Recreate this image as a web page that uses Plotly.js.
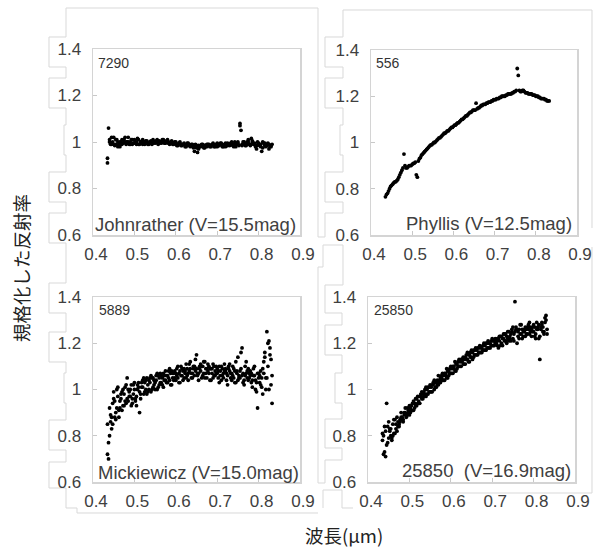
<!DOCTYPE html>
<html>
<head>
<meta charset="utf-8">
<script src="https://cdn.plot.ly/plotly-3.0.1.min.js"></script>
<style>html,body{margin:0;padding:0;background:#fff;}#chart{width:593px;height:547px;}</style>
</head>
<body>
<div id="chart"></div>
<script>
// ---- data ----
const wlA = [0.435,0.440,0.445,0.450,0.455,0.460,0.465,0.470,0.475,0.480,
0.485,0.490,0.495,0.500,0.505,0.510,0.515,0.520,0.525,0.530,
0.535,0.540,0.545,0.550,0.555,0.560,0.565,0.570,0.575,0.580,
0.585,0.590,0.595,0.600,0.605,0.610,0.615,0.620,0.625,0.630,
0.635,0.640,0.645,0.650,0.655,0.660,0.665,0.670,0.675,0.680,
0.685,0.690,0.695,0.700,0.705,0.710,0.715,0.720,0.725,0.730,
0.735,0.740,0.745,0.750,0.755,0.760,0.765,0.770,0.775,0.780,
0.785,0.790,0.795,0.800,0.805,0.810,0.815,0.820,0.825,0.830];
const wlB = [0.4375,0.4425,0.4475,0.4525,0.4575,0.4625,0.4675,0.4725,0.4775,0.4825,
0.4875,0.4925,0.4975,0.5025,0.5075,0.5125,0.5175,0.5225,0.5275,0.5325,
0.5375,0.5425,0.5475,0.5525,0.5575,0.5625,0.5675,0.5725,0.5775,0.5825,
0.5875,0.5925,0.5975,0.6025,0.6075,0.6125,0.6175,0.6225,0.6275,0.6325,
0.6375,0.6425,0.6475,0.6525,0.6575,0.6625,0.6675,0.6725,0.6775,0.6825,
0.6875,0.6925,0.6975,0.7025,0.7075,0.7125,0.7175,0.7225,0.7275,0.7325,
0.7375,0.7425,0.7475,0.7525,0.7575,0.7625,0.7675,0.7725,0.7775,0.7825,
0.7875,0.7925,0.7975,0.8025,0.8075,0.8125,0.8175,0.8225,0.8275,0.8325];

// 7290 Johnrather
const johnA1 = [0.93,1.01,0.99,1.02,0.99,1.00,0.98,1.01,1.00,0.99,
1.02,1.00,0.99,1.01,1.00,0.99,1.00,1.01,0.99,1.00,
0.995,1.00,1.01,0.995,1.00,1.005,0.995,1.01,1.00,1.005,
0.995,1.00,0.99,0.995,0.99,1.00,0.985,0.99,0.985,0.99,
0.98,0.985,0.96,0.975,0.985,0.98,0.99,0.985,0.98,0.99,
0.985,0.99,0.98,0.995,0.985,0.99,0.98,0.995,0.985,0.99,
1.00,0.98,0.995,1.00,1.07,0.99,1.00,0.985,1.01,0.99,
1.00,0.995,0.97,0.99,0.98,1.00,0.985,0.99,0.97,0.985];
const johnB1 = [1.06,0.99,1.00,0.985,1.01,0.99,1.00,0.995,1.02,1.00,
0.99,1.01,0.995,1.00,1.015,0.99,1.00,0.995,1.005,0.99,
1.00,0.99,1.00,1.005,0.99,1.00,1.01,0.995,1.005,0.995,
1.00,0.99,1.00,0.985,0.995,0.985,0.99,0.98,0.995,0.985,
0.99,0.975,0.99,0.955,0.98,0.99,0.975,0.985,0.99,0.98,
0.99,0.98,0.99,0.985,0.995,0.98,0.99,0.985,0.99,0.995,
0.985,1.00,0.99,0.985,1.05,1.00,0.985,1.00,0.99,1.015,
0.99,0.98,1.00,0.985,0.96,0.995,0.98,0.995,0.98,0.99];
const johnA2 = [0.91,1.00,1.02,0.99,1.01,0.98,1.00,0.99,1.01,1.00,
1.00,0.99,1.01,0.995,0.99,1.01,1.00,0.99,1.00,1.005,
0.99,1.005,0.995,1.00,1.01,0.995,1.00,1.00,0.995,1.01,
0.99,1.005,0.995,1.00,0.985,0.995,0.99,0.995,0.98,0.995,
0.985,0.99,0.98,0.985,0.97,0.985,0.985,0.975,0.99,0.985,
0.98,0.995,0.985,0.98,0.99,0.995,0.985,0.98,0.995,0.985,
0.99,0.99,0.98,0.995,1.08,0.985,0.995,0.99,1.00,0.985,
1.005,0.99,0.985,0.995,0.99,0.975,0.995,0.985,0.99,0.98];

// 556 Phyllis
const phylA1 = [0.765,0.78,0.80,0.815,0.825,0.83,0.84,0.86,0.88,0.95,
0.89,0.895,0.90,0.905,0.91,0.86,0.92,0.935,0.95,0.96,
0.97,0.98,0.99,0.995,1.00,1.01,1.02,1.025,1.035,1.04,
1.05,1.055,1.065,1.07,1.075,1.085,1.09,1.10,1.105,1.115,
1.12,1.13,1.135,1.14,1.17,1.15,1.155,1.16,1.165,1.17,
1.175,1.175,1.18,1.185,1.19,1.19,1.195,1.20,1.20,1.205,
1.21,1.21,1.215,1.22,1.32,1.225,1.22,1.225,1.215,1.215,
1.21,1.21,1.205,1.20,1.20,1.195,1.19,1.19,1.185,1.18];
const phylB1 = [0.775,0.79,0.81,0.82,0.83,0.835,0.85,0.87,0.89,0.90,
0.89,0.90,0.90,0.91,0.915,0.85,0.93,0.945,0.955,0.965,
0.975,0.985,0.99,1.00,1.005,1.015,1.02,1.03,1.04,1.045,
1.05,1.06,1.065,1.075,1.08,1.085,1.095,1.10,1.11,1.115,
1.125,1.13,1.14,1.14,1.145,1.15,1.16,1.165,1.165,1.17,
1.175,1.18,1.185,1.185,1.19,1.195,1.20,1.20,1.205,1.21,
1.21,1.215,1.22,1.225,1.29,1.22,1.225,1.22,1.215,1.21,
1.21,1.205,1.205,1.20,1.195,1.19,1.19,1.185,1.18,1.18];

// 5889 Mickiewicz
const mickA1 = [0.72,0.80,0.88,0.96,0.90,0.97,0.92,0.99,0.93,1.02,
0.95,1.00,0.94,1.03,0.97,1.01,0.98,1.04,0.99,1.05,
1.00,1.06,1.01,1.00,1.07,1.02,1.06,1.01,1.08,1.03,
1.09,1.02,1.07,1.04,1.10,1.03,1.09,1.05,1.11,1.04,
1.12,1.05,1.10,1.15,1.04,1.11,1.06,1.12,1.05,1.10,
1.04,1.11,1.06,1.09,1.03,1.10,1.05,1.08,1.02,1.11,
1.04,1.09,1.03,1.14,1.05,1.18,1.02,1.12,1.04,1.08,
1.01,1.10,0.99,1.07,1.02,1.09,1.14,1.25,1.21,1.02];
const mickB1 = [0.77,0.86,0.94,0.88,1.00,0.91,0.98,0.93,1.01,0.96,
0.99,0.93,1.02,0.96,1.00,0.90,1.03,0.98,1.04,0.99,
1.05,1.00,1.04,1.06,1.01,1.07,1.02,1.06,1.03,1.08,
1.02,1.07,1.05,1.09,1.03,1.10,1.04,1.08,1.06,1.11,
1.05,1.09,1.13,1.06,1.10,1.05,1.12,1.07,1.11,1.04,
1.09,1.06,1.10,1.05,1.08,1.06,1.11,1.04,1.09,1.05,
1.10,1.03,1.08,1.06,1.16,1.03,1.10,1.05,1.07,1.03,
1.09,1.00,0.92,1.06,1.01,1.12,1.00,1.20,1.15,0.94];
const mickA2 = [0.85,0.92,0.83,0.99,0.87,1.01,0.95,0.91,0.98,0.94,
1.00,0.97,0.96,1.00,0.93,1.03,0.96,1.01,1.03,0.98,
1.04,0.99,1.05,1.03,1.00,1.05,1.03,1.07,1.04,1.06,
1.04,1.08,1.04,1.07,1.05,1.08,1.06,1.09,1.05,1.07,
1.09,1.07,1.06,1.09,1.07,1.08,1.10,1.05,1.09,1.07,
1.09,1.05,1.08,1.07,1.10,1.04,1.07,1.09,1.06,1.08,
1.07,1.05,1.12,1.04,1.08,1.06,1.04,1.07,1.09,1.06,
1.04,1.06,1.03,1.05,1.08,0.98,1.16,1.05,1.00,1.13];
const mickB2 = [0.70,0.89,0.85,0.95,0.92,0.88,0.96,1.00,0.95,1.05,
0.97,1.02,0.98,0.95,1.02,0.99,1.01,1.05,1.00,1.02,
1.03,1.05,1.02,1.04,1.06,1.03,1.05,1.04,1.06,1.05,
1.07,1.05,1.08,1.06,1.07,1.06,1.08,1.07,1.09,1.08,
1.07,1.10,1.08,1.07,1.09,1.10,1.07,1.09,1.08,1.09,
1.07,1.10,1.07,1.08,1.06,1.09,1.08,1.07,1.10,1.07,
1.06,1.08,1.07,1.05,1.09,1.07,1.06,1.08,1.05,1.07,
1.06,1.04,1.07,1.03,1.05,1.07,1.05,1.10,1.18,1.06];

// 25850
const astA1 = [0.78,0.84,0.76,0.86,0.80,0.85,0.81,0.88,0.84,0.90,
0.86,0.92,0.89,0.93,0.91,0.95,0.93,0.97,0.94,0.99,
0.97,1.01,0.98,1.02,0.99,1.04,1.01,1.06,1.03,1.07,
1.04,1.09,1.06,1.10,1.07,1.12,1.09,1.13,1.10,1.14,
1.11,1.16,1.12,1.17,1.14,1.18,1.15,1.19,1.16,1.20,
1.17,1.21,1.18,1.22,1.19,1.21,1.18,1.23,1.19,1.24,
1.20,1.25,1.21,1.27,1.38,1.26,1.22,1.28,1.23,1.27,
1.24,1.29,1.23,1.28,1.24,1.27,1.13,1.29,1.24,1.32];
const astB1 = [0.72,0.82,0.77,0.83,0.78,0.87,0.83,0.86,0.87,0.88,
0.90,0.89,0.91,0.90,0.94,0.92,0.96,0.94,0.98,0.96,
1.00,0.98,1.01,0.99,1.03,1.01,1.04,1.03,1.06,1.04,
1.07,1.05,1.09,1.07,1.10,1.08,1.12,1.10,1.13,1.11,
1.15,1.12,1.16,1.13,1.17,1.15,1.18,1.16,1.19,1.17,
1.20,1.18,1.21,1.19,1.22,1.19,1.23,1.20,1.24,1.21,
1.25,1.22,1.26,1.21,1.27,1.23,1.28,1.22,1.26,1.24,
1.28,1.25,1.27,1.23,1.29,1.22,1.27,1.25,1.31,1.26];
const astA2 = [0.81,0.73,0.94,0.79,0.83,0.80,0.87,0.82,0.85,0.88,
0.87,0.90,0.92,0.89,0.93,0.91,0.96,0.94,0.97,0.96,
0.99,0.97,1.01,0.99,1.02,1.00,1.03,1.02,1.05,1.04,
1.07,1.05,1.08,1.07,1.10,1.08,1.11,1.10,1.13,1.11,
1.14,1.13,1.15,1.14,1.17,1.15,1.18,1.16,1.18,1.17,
1.20,1.18,1.20,1.19,1.21,1.20,1.22,1.19,1.22,1.21,
1.23,1.21,1.24,1.22,1.25,1.20,1.26,1.24,1.25,1.23,
1.27,1.24,1.26,1.25,1.22,1.26,1.23,1.28,1.25,1.30];
const astB2 = [0.80,0.71,0.84,0.82,0.79,0.81,0.85,0.84,0.86,0.87,
0.89,0.88,0.90,0.92,0.91,0.94,0.93,0.95,0.97,0.98,
0.98,1.00,0.99,1.01,1.02,1.03,1.02,1.04,1.05,1.06,
1.06,1.08,1.07,1.09,1.09,1.11,1.10,1.12,1.12,1.13,
1.13,1.15,1.14,1.16,1.15,1.17,1.16,1.18,1.17,1.19,
1.18,1.20,1.19,1.21,1.20,1.22,1.21,1.23,1.22,1.24,
1.22,1.23,1.25,1.24,1.26,1.25,1.24,1.26,1.25,1.26,
1.26,1.27,1.25,1.27,1.26,1.28,1.26,1.27,1.29,1.24];

const panelIds = ['7290','556','5889','25850'];
const panelNames = ['Johnrather (V=15.5mag)','Phyllis (V=12.5mag)','Mickiewicz (V=15.0mag)','25850\u00a0 (V=16.9mag)'];
const xTicks = [0.4,0.5,0.6,0.7,0.8,0.9];
const yTicks = [0.6,0.8,1.0,1.2,1.4];
const yTitle = '規格化した反射率';
const xTitle = '波長(μm)';

// ---- layout helpers ----
const W = 593, H = 547;
const fx = p => p / W;
const fy = p => 1 - p / H;
const P = (x, y) => fx(x).toFixed(5) + ',' + fy(y).toFixed(5);
const path = pts => 'M' + pts.map(p => P(p[0], p[1])).join('L');

const series = [
  {ax: '', sets: [[wlA, johnA1], [wlB, johnB1], [wlA, johnA2]]},
  {ax: '2', sets: [[wlA, phylA1], [wlB, phylB1]]},
  {ax: '3', sets: [[wlA, mickA1], [wlB, mickB1], [wlA, mickA2], [wlB, mickB2]]},
  {ax: '4', sets: [[wlA, astA1], [wlB, astB1], [wlA, astA2], [wlB, astB2]]}
];
const traces = [];
series.forEach(s => {
  s.sets.forEach(d => {
    traces.push({
      type: 'scatter', mode: 'markers', x: d[0], y: d[1],
      xaxis: 'x' + s.ax, yaxis: 'y' + s.ax,
      marker: {color: '#000', size: 3.8},
      hoverinfo: 'skip', showlegend: false
    });
  });
});

const boxes = [
  {x: [93, 300], y: [49, 235]},
  {x: [371, 577], y: [50, 235]},
  {x: [93, 300], y: [297, 482]},
  {x: [368, 575], y: [297, 482]}
];
const tickFont = {family: 'Liberation Sans, Arial, sans-serif', size: 17, color: '#404040'};
const layout = {
  width: W, height: H,
  margin: {l: 0, r: 0, t: 0, b: 0},
  paper_bgcolor: '#fff', plot_bgcolor: '#fff',
  showlegend: false,
  annotations: [], shapes: []
};
boxes.forEach((b, i) => {
  const s = i === 0 ? '' : String(i + 1);
  layout['xaxis' + s] = {
    domain: [fx(b.x[0]), fx(b.x[1])], anchor: 'y' + s,
    range: [0.4, 0.9], tickvals: xTicks, ticktext: xTicks.map(v => String(v)),
    ticks: 'inside', ticklen: 4, tickcolor: '#c8c8c8', tickwidth: 1,
    showline: true, mirror: true, linecolor: '#d4d4d4', linewidth: 1.5,
    showgrid: false, zeroline: false, tickfont: tickFont, ticklabelstandoff: 3, ticklabelshift: 3
  };
  layout['yaxis' + s] = {
    domain: [fy(b.y[1]), fy(b.y[0])], anchor: 'x' + s,
    range: [0.6, 1.4], tickvals: yTicks, ticktext: yTicks.map(v => String(v)),
    ticks: 'inside', ticklen: 4, tickcolor: '#c8c8c8', tickwidth: 1,
    showline: true, mirror: true, linecolor: '#d4d4d4', linewidth: 1.5,
    showgrid: false, zeroline: false, tickfont: tickFont, ticklabelstandoff: 7
  };
});

const nameFont = {family: 'Liberation Sans, Arial, sans-serif', size: 18.5, color: '#404040'};
const idFont = {family: 'Liberation Sans, Arial, sans-serif', size: 14, color: '#333'};
const idPos = [[96, 63], [374, 63], [97, 310], [372, 310]];
const namePos = [[298, 224, 'right'], [574, 223, 'right'], [96, 472, 'left'], [573, 470, 'right']];
panelIds.forEach((t, i) => {
  layout.annotations.push({xref: 'paper', yref: 'paper', x: fx(idPos[i][0]), y: fy(idPos[i][1]),
    xanchor: 'left', yanchor: 'middle', text: t, showarrow: false, font: idFont});
  layout.annotations.push({xref: 'paper', yref: 'paper', x: fx(namePos[i][0]), y: fy(namePos[i][1]),
    xanchor: namePos[i][2], yanchor: 'middle', text: panelNames[i], showarrow: false, font: nameFont});
});
const cjk = {family: 'Noto Sans CJK JP, sans-serif', size: 18.5, color: '#222'};
layout.annotations.push({xref: 'paper', yref: 'paper', x: fx(21), y: fy(268), text: yTitle,
  textangle: -90, showarrow: false, xanchor: 'center', yanchor: 'middle', font: cjk});
layout.annotations.push({xref: 'paper', yref: 'paper', x: fx(344), y: fy(535), text: xTitle,
  showarrow: false, xanchor: 'center', yanchor: 'middle', font: cjk});

// faint outline frames around the composited panels
const outlines = [
  [[66,8],[66,37],[49,37],[49,67],[66,67],[66,78],[49,78],[49,108],[66,108],[66,125],[64,125],[64,155],[66,155],[66,172],[49,172],[49,202],[66,202],[66,213],[49,213],[49,243],[66,243],[66,283],[49,283],[49,313],[66,313],[66,332],[49,332],[49,362],[66,362],[66,373],[64,373],[64,403],[66,403],[66,420],[49,420],[49,450],[66,450],[66,462],[49,462],[49,488],[66,488],[66,508],[77,508],[77,513],[318,513]],
  [[66,8],[318,8],[318,237],[325,237]],
  [[592,10],[343,10],[343,37],[325,37],[325,67],[343,67],[343,78],[325,78],[325,108],[343,108],[343,125],[340,125],[340,155],[343,155],[343,172],[325,172],[325,202],[343,202],[343,213],[325,213],[325,237]],
  [[592,10],[592,228]],
  [[323,267],[323,245],[343,245],[343,285],[325,285],[325,313],[342,313],[342,325],[325,325],[325,355],[342,355],[342,373],[335,373],[335,403],[342,403],[342,419],[325,419],[325,448],[342,448],[342,460],[325,460],[325,483],[318,483]],
  [[318,267],[323,267]],
  [[318,267],[318,483]],
  [[323,508],[323,490],[342,490],[342,508],[353,508]],
  [[380,493],[592,493],[592,247]]
];
outlines.forEach(o => layout.shapes.push({type: 'path', xref: 'paper', yref: 'paper', path: path(o),
  line: {color: '#d9d9d9', width: 1}, layer: 'below'}));

Plotly.newPlot('chart', traces, layout, {displayModeBar: false, staticPlot: true});
</script>
</body>
</html>
